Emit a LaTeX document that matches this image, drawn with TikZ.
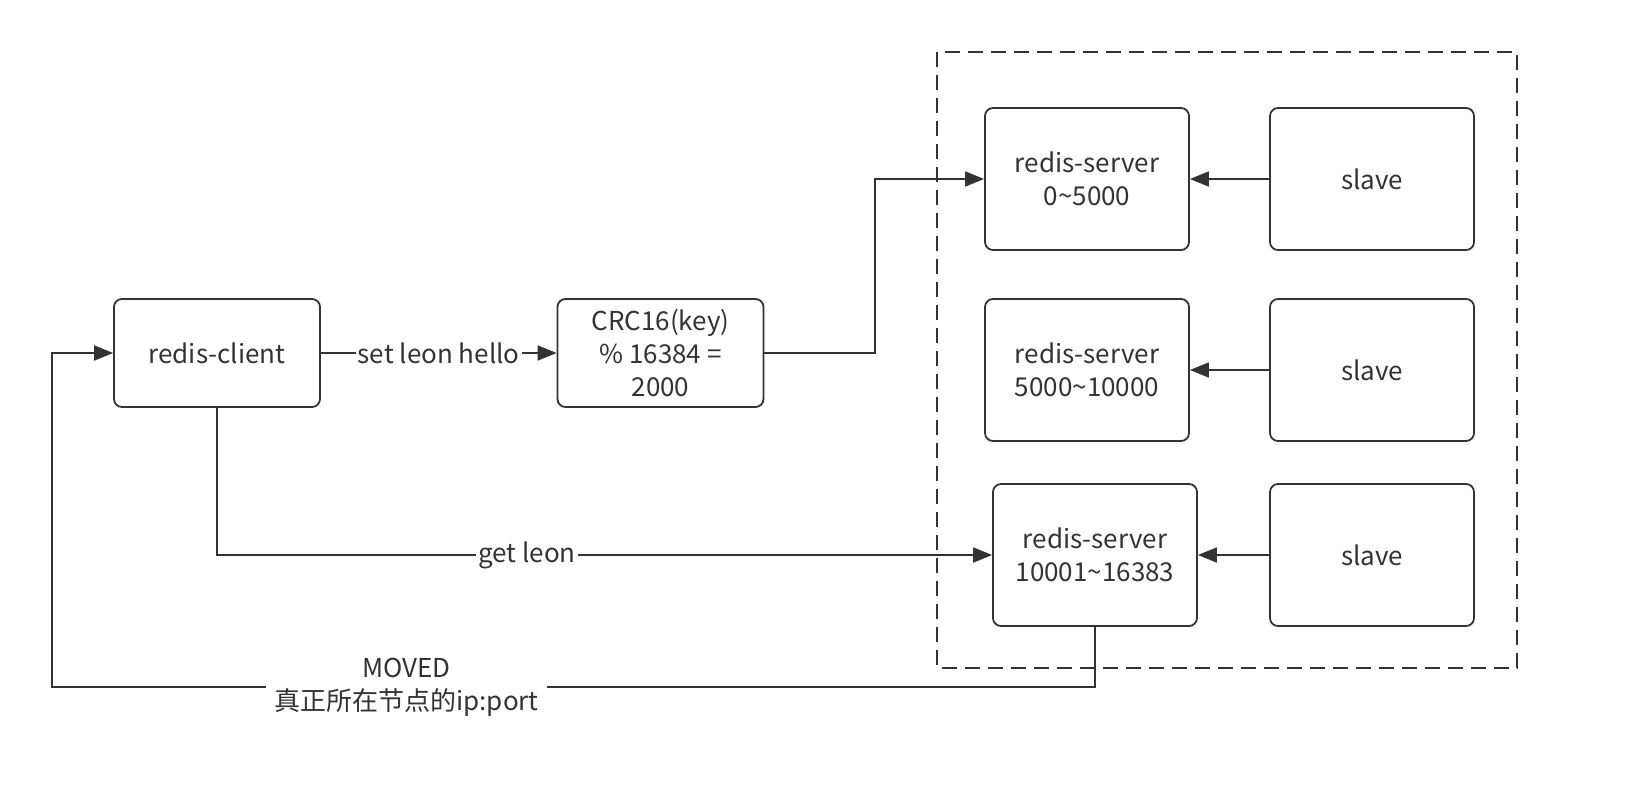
\documentclass[tikz,border=0pt]{standalone}
\usepackage{fontspec}
\setmainfont{Noto Sans CJK SC}
\usetikzlibrary{arrows.meta}
\definecolor{ink}{HTML}{333333}
\begin{document}
\begin{tikzpicture}[x=0.5pt,y=-0.5pt,
  every node/.style={text=ink,font=\fontsize{13}{16.5}\selectfont},
  box/.style={draw=ink,line width=0.9pt,rounded corners=4pt,align=center,inner sep=0pt},
  cbox/.style={box,minimum width=103pt,minimum height=54pt},
  sbox/.style={box,minimum width=102pt,minimum height=71pt},
  arr/.style={draw=ink,line width=0.9pt,-{Triangle[length=9.5pt,width=7.5pt]}},
  lbl/.style={fill=white,inner sep=1pt,align=center}]
\useasboundingbox (0,0) rectangle (1652,791);
\draw[ink,line width=0.9pt,dash pattern=on 7.5pt off 4pt] (937,52) rectangle (1517,668);
\node[cbox] (client) at (217,353) {redis-client};
\node[cbox] (crc) at (660.5,353) {CRC16(key)\\\% 16384 =\\2000};
\node[sbox] (s1) at (1087,179) {redis-server\\0\textasciitilde5000};
\node[sbox] (s2) at (1087,370) {redis-server\\5000\textasciitilde10000};
\node[sbox] (s3) at (1095,555) {redis-server\\10001\textasciitilde16383};
\node[sbox] (sl1) at (1372,179) {slave};
\node[sbox] (sl2) at (1372,370) {slave};
\node[sbox] (sl3) at (1372,555) {slave};
\coordinate (k1) at (875,353);
\coordinate (m1) at (52,687);
\draw[arr] (client) -- node[lbl]{set leon hello} (crc);
\draw[arr] (crc.east) -- (k1) |- (s1.west);
\draw[arr] (client.south) |- node[lbl,pos=0.70]{get leon} (s3.west);
\draw[arr] (s3.south) |- node[lbl,pos=0.83,inner xsep=4pt]{MOVED\\真正所在节点的ip:port} (m1) |- (client.west);
\draw[arr] (sl1) -- (s1);
\draw[arr] (sl2) -- (s2);
\draw[arr] (sl3) -- (s3);
\end{tikzpicture}
\end{document}
